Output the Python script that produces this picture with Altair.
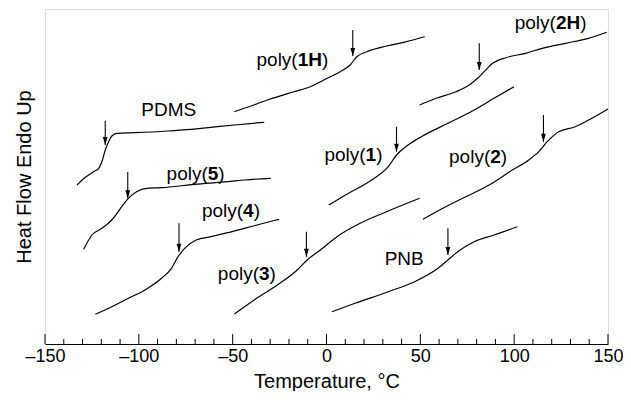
import altair as alt
import pandas as pd

# ---- data (temperature in °C, heat flow in arbitrary units, endo up) ----
pdms_t = [-132.9, -128.5, -124.1, -121.4, -119.7, -117.9, -116.1, -114.4, -111.7, -102.0, -84.4, -66.8, -49.1, -33.2]
pdms_h = [15.6, 16.37, 16.93, 17.27, 17.93, 19.1, 19.93, 20.5, 20.77, 20.83, 21.0, 21.27, 21.6, 21.87]

p5_t = [-129.4, -125.0, -119.7, -114.4, -109.1, -105.6, -101.2, -95.9, -87.9, -70.3, -52.6, -43.8, -29.7]
p5_h = [9.17, 10.6, 11.27, 12.1, 13.43, 14.27, 14.93, 15.27, 15.33, 15.67, 15.93, 16.1, 16.27]

p4_t = [-123.2, -114.4, -105.6, -96.7, -87.9, -82.6, -79.1, -75.6, -69.4, -61.5, -52.6, -43.8, -35.0, -25.3]
p4_h = [2.67, 3.43, 4.27, 5.1, 6.27, 7.27, 8.43, 9.27, 10.1, 10.43, 10.83, 11.27, 11.7, 12.17]

p3_t = [-49.1, -38.5, -26.2, -15.6, -10.3, -3.3, 5.6, 17.9, 32.0, 49.6]
p3_h = [2.7, 4.1, 5.6, 7.1, 8.1, 9.1, 10.43, 11.77, 12.93, 14.27]

p1h_t = [-49.1, -42.1, -31.5, -17.4, -8.6, 0.3, 7.3, 12.6, 16.1, 21.4, 32.0, 42.6, 52.3]
p1h_h = [22.93, 23.37, 24.1, 24.93, 25.43, 26.27, 26.93, 27.6, 28.43, 28.93, 29.5, 29.93, 30.43]

p1_t = [1.2, 11.7, 24.1, 32.9, 37.3, 43.5, 50.5, 64.7, 77.0, 89.3, 99.9]
p1_h = [13.6, 14.77, 16.1, 17.43, 18.6, 19.6, 20.43, 21.77, 22.93, 24.27, 25.43]

p2h_t = [49.6, 58.5, 69.0, 76.1, 80.5, 84.0, 88.5, 95.5, 106.1, 114.9, 127.2, 139.6, 149.3]
p2h_h = [23.6, 24.27, 24.93, 25.6, 26.27, 26.93, 27.77, 28.33, 28.77, 29.27, 29.77, 30.27, 30.87]

p2_t = [51.4, 62.0, 74.3, 86.7, 99.0, 107.8, 113.1, 117.6, 123.7, 132.6, 141.4, 150.0]
p2_h = [12.17, 13.27, 14.43, 15.6, 17.1, 18.1, 18.93, 19.93, 20.93, 21.43, 22.27, 23.2]

pnb_t = [2.9, 15.2, 32.9, 47.0, 59.4, 64.7, 69.9, 78.7, 89.3, 101.7]
pnb_h = [2.93, 3.77, 4.93, 5.93, 7.27, 8.1, 8.93, 9.93, 10.6, 11.43]

# Tg arrows: temperature, top and tip of arrow (heat-flow units)
arrow_names = ["PDMS", "poly(5)", "poly(4)", "poly(3)", "poly(1H)", "poly(1)", "poly(2H)", "poly(2)", "PNB"]
arrow_t = [-117.9, -105.9, -78.6, -10.7, 14.0, 37.3, 81.4, 115.6, 64.7]
arrow_top = [22.03, 16.9, 11.77, 10.93, 31.1, 21.43, 29.77, 22.6, 11.27]
arrow_tip = [19.6, 14.27, 8.93, 8.43, 28.5, 18.93, 27.1, 19.93, 8.6]

# Curve labels: prefix, bold part, suffix, left x (°C), baseline (heat-flow units)
label_pre = ["PDMS", "poly(", "poly(", "poly(", "poly(", "poly(", "poly(", "poly(", "PNB"]
label_bold = ["", "5", "4", "3", "1H", "1", "2H", "2", ""]
label_post = ["", ")", ")", ")", ")", ")", ")", ")", ""]
label_t = [-98.7, -85.2, -66.4, -57.9, -37.3, -1.1, 100.3, 65.3, 31.0]
label_h = [22.5, 16.1, 12.4, 6.15, 27.5, 18.0, 31.2, 17.8, 7.6]

major_ticks = [-150, -100, -50, 0, 50, 100, 150]
minor_ticks = [v for v in range(-150, 151, 10) if v % 50 != 0]

series = [
    ("PDMS", pdms_t, pdms_h), ("poly(5)", p5_t, p5_h), ("poly(4)", p4_t, p4_h),
    ("poly(3)", p3_t, p3_h), ("poly(1H)", p1h_t, p1h_h), ("poly(1)", p1_t, p1_h),
    ("poly(2H)", p2h_t, p2h_h), ("poly(2)", p2_t, p2_h), ("PNB", pnb_t, pnb_h),
]

W, H = 563, 335
X_MIN, X_MAX = -150, 150
PX_PER_UNIT = W / (X_MAX - X_MIN)

rows = []
for name, ts, hs in series:
    for i, (t, h) in enumerate(zip(ts, hs)):
        rows.append({"series": name, "i": i, "T": t, "H": h})
curves_df = pd.DataFrame(rows)

arrows_df = pd.DataFrame({"series": arrow_names, "T": arrow_t, "top": arrow_top, "tip": arrow_tip})

FONT = "Liberation Sans"
FS = 19
# approximate advance widths (em) for an Arial-metric font
W_REG = {"p": .556, "o": .556, "l": .222, "y": .5, "(": .333}
W_BOLD = {"1": .556, "2": .556, "3": .556, "4": .556, "5": .556, "H": .722}

lab_rows = []
for pre, b, post, t, h in zip(label_pre, label_bold, label_post, label_t, label_h):
    w_pre = sum(W_REG.get(c, 0.6) for c in pre) * FS
    w_b = sum(W_BOLD.get(c, 0.6) for c in b) * FS
    lab_rows.append({"txt": pre, "T": t, "H": h, "w": "normal"})
    if b:
        lab_rows.append({"txt": b, "T": t + w_pre / PX_PER_UNIT, "H": h, "w": "bold"})
        lab_rows.append({"txt": post, "T": t + (w_pre + w_b) / PX_PER_UNIT, "H": h, "w": "normal"})
labels_df = pd.DataFrame(lab_rows)

xscale = alt.Scale(domain=[X_MIN, X_MAX], nice=False, zero=False, padding=0)
yscale = alt.Scale(domain=[-0.3, 33.2], nice=False, zero=False, padding=0)

xaxis = alt.Axis(
    values=major_ticks, ticks=False, grid=False, domainColor="black", domainWidth=1,
    labelFont=FONT, labelFontSize=18, labelColor="black", labelPadding=3,
    labelFlush=False, labelOverlap=False,
    labelExpr="datum.value < 0 ? '\u2013' + abs(datum.value) : '' + datum.value",
    title="Temperature, °C", titleFont=FONT, titleFontSize=20, titleFontWeight="normal",
    titleColor="black", titlePadding=6,
)
yaxis = alt.Axis(
    domain=False, ticks=False, labels=False, grid=False,
    title="Heat Flow Endo Up", titleFont=FONT, titleFontSize=20, titleFontWeight="normal",
    titleColor="black", titlePadding=11,
)

lines = alt.Chart(curves_df).mark_line(color="black", strokeWidth=1.2, interpolate="monotone").encode(
    x=alt.X("T:Q", scale=xscale, axis=xaxis),
    y=alt.Y("H:Q", scale=yscale, axis=yaxis),
    detail="series:N",
    order="i:Q",
)

arrow_shaft = alt.Chart(arrows_df).mark_rule(color="black", strokeWidth=1.1).encode(
    x=alt.X("T:Q", scale=xscale), y=alt.Y("top:Q", scale=yscale), y2="tip:Q"
)
arrow_head = alt.Chart(arrows_df).mark_point(
    shape="M-0.6,-2L0.6,-2L0,0Z", filled=True, color="black", size=64, opacity=1
).encode(x=alt.X("T:Q", scale=xscale), y=alt.Y("tip:Q", scale=yscale))


def text_layer(weight):
    d = labels_df[labels_df["w"] == weight]
    return alt.Chart(d).mark_text(
        align="left", baseline="alphabetic", font=FONT, fontSize=FS,
        fontWeight=weight, color="black"
    ).encode(x=alt.X("T:Q", scale=xscale), y=alt.Y("H:Q", scale=yscale), text="txt:N")


tick_major = alt.Chart(pd.DataFrame({"v": major_ticks})).mark_rule(color="black", strokeWidth=1).encode(
    x=alt.X("v:Q", scale=xscale), y=alt.value(H), y2=alt.value(H - 10)
)
tick_minor = alt.Chart(pd.DataFrame({"v": minor_ticks})).mark_rule(color="black", strokeWidth=1).encode(
    x=alt.X("v:Q", scale=xscale), y=alt.value(H), y2=alt.value(H - 5)
)

chart = alt.layer(
    lines, arrow_shaft, arrow_head, text_layer("normal"), text_layer("bold"), tick_major, tick_minor
).properties(
    width=W, height=H,
    autosize=alt.AutoSizeParams(type="none"),
    padding={"left": 37, "top": 1, "right": 15, "bottom": 47},
).configure_view(stroke=None).configure(background="white")

chart.save("out.html", embed_options={"renderer": "svg", "actions": False})
